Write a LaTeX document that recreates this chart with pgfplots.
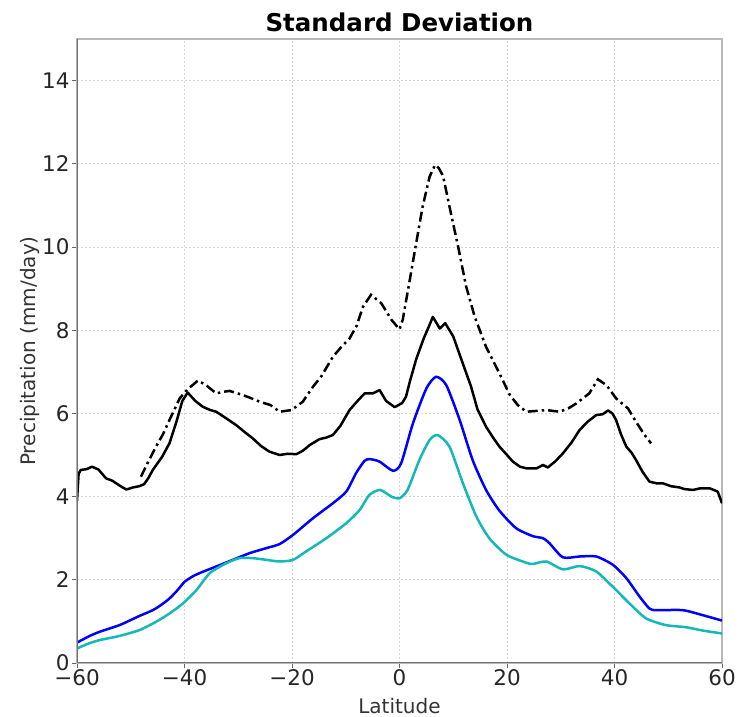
\documentclass[border=0pt]{standalone}
\usepackage{fontspec}
\setmainfont{DejaVu Sans}
\usepackage{pgfplots}
\pgfplotsset{compat=1.18}
\definecolor{mplblue}{rgb}{0,0,1}
\definecolor{mplcyan}{rgb}{0.08,0.72,0.72}
\begin{document}
\begin{tikzpicture}[x=1pt,y=1pt]
\useasboundingbox (-77,-54) rectangle (663,663);
\begin{axis}[
  at={(0,0)}, anchor=south west,
  width=645pt, height=624pt, scale only axis,
  xmin=-60, xmax=60, ymin=0, ymax=15,
  xtick={-60,-40,-20,0,20,40,60},
  xticklabels={−60,−40,−20,0,20,40,60},
  ytick={0,2,4,6,8,10,12,14},
  yticklabels={0,2,4,6,8,10,12,14},
  tick label style={font=\fontsize{21.5}{25}\selectfont, text=black!85},
  xticklabel style={yshift=2pt},
  yticklabel style={xshift=1pt},
  tick align=outside, tickpos=left,
  major tick length=5pt,
  every tick/.style={black!60, line width=0.8pt},
  axis line style={black!28, line width=1.2pt},
  grid=major,
  major grid style={black!16, dash pattern=on 2pt off 2pt, line width=0.6pt},
  xlabel={Latitude},
  ylabel={Precipitation (mm/day)},
  every axis x label/.style={at={(axis description cs:0.5,0)}, anchor=center, yshift=-43pt, font=\fontsize{20}{24}\selectfont, text=black!80},
  every axis y label/.style={at={(axis description cs:0,0.5)}, xshift=-47pt, rotate=90, anchor=center, font=\fontsize{20}{24}\selectfont, text=black!80},
  title={\textbf{Standard Deviation}},
  every axis title/.style={at={(axis description cs:0.5,1)}, anchor=base, yshift=7pt, font=\fontsize{24.5}{28}\selectfont},
  clip=true,
]
% solid black
\addplot[black, line width=2.5pt, line join=round] coordinates {
(-60,3.9)(-59.7,4.55)(-59.3,4.64)(-58.2,4.66)(-57.2,4.72)(-56,4.65)(-54.6,4.44)(-53.4,4.38)(-52.5,4.3)(-51.5,4.22)(-50.8,4.17)(-49.6,4.22)(-48.4,4.25)(-47.5,4.3)(-46.7,4.45)(-45.9,4.64)(-44.2,4.95)(-42.8,5.28)(-41.5,5.8)(-40.4,6.3)(-39.4,6.5)(-38,6.3)(-36.6,6.16)(-35.2,6.08)(-34.1,6.04)(-32,5.86)(-30.4,5.72)(-28.8,5.55)(-27.3,5.40)(-25.8,5.22)(-24.2,5.08)(-22.3,5.0)(-20.8,5.03)(-19.2,5.02)(-18,5.1)(-16.7,5.24)(-14.9,5.38)(-13.6,5.42)(-12.4,5.48)(-11,5.7)(-9.3,6.08)(-7.8,6.3)(-6.5,6.48)(-5,6.48)(-3.7,6.56)(-2.5,6.3)(-0.9,6.15)(0.5,6.25)(1.2,6.40)(2,6.8)(3.1,7.3)(4.5,7.8)(5.5,8.1)(6.2,8.32)(7.5,8.04)(8.5,8.17)(10,7.85)(11.5,7.3)(13.3,6.65)(14.5,6.1)(16.1,5.68)(17.4,5.42)(18.6,5.2)(20,5.0)(21.1,4.84)(22.4,4.72)(23.6,4.68)(25.5,4.68)(26.7,4.76)(27.6,4.70)(29,4.85)(30.4,5.04)(32,5.3)(33.5,5.6)(35,5.8)(36.6,5.96)(37.8,5.98)(38.8,6.07)(39.6,6.0)(40.3,5.84)(41.2,5.5)(42.2,5.2)(43.2,5.05)(44.0,4.88)(45.2,4.6)(46.5,4.36)(47.8,4.32)(49.0,4.32)(50.5,4.25)(52.1,4.22)(53,4.18)(54.6,4.16)(56,4.2)(57.7,4.2)(59.2,4.12)(60,3.84)
};
% dash-dot black
\addplot[black, line width=2.5pt, dash pattern=on 10pt off 4pt on 2.5pt off 4pt] coordinates {
(-48.1,4.48)(-46.7,4.85)(-45.3,5.2)(-44,5.5)(-42.8,5.84)(-40.9,6.36)(-39.4,6.58)(-37.5,6.79)(-36.0,6.68)(-34.1,6.48)(-32.8,6.52)(-31.6,6.54)(-29.1,6.44)(-27.5,6.36)(-26.0,6.28)(-24,6.2)(-22.3,6.04)(-20.1,6.08)(-18.0,6.28)(-16.1,6.64)(-14.5,6.9)(-12.4,7.36)(-10.8,7.6)(-9.3,7.80)(-8,8.1)(-6.8,8.56)(-5.3,8.85)(-3.4,8.65)(-1.5,8.25)(0,8.02)(0.6,8.25)(1.9,9.2)(3.1,10.09)(4.3,10.97)(5.6,11.69)(6.6,11.97)(7.3,11.9)(8.1,11.71)(9.3,10.97)(10.9,10.01)(12.4,9.05)(14.0,8.32)(16.1,7.6)(18.6,6.96)(20.5,6.45)(22,6.2)(23.6,6.04)(25.5,6.06)(27.3,6.08)(29.8,6.04)(31.4,6.12)(32.9,6.24)(35.3,6.48)(36.9,6.82)(38.5,6.68)(40.3,6.36)(42.5,6.12)(44.0,5.80)(45.6,5.48)(46.8,5.28)
};
% blue
\addplot[mplblue, line width=2.5pt, smooth, tension=0.4] coordinates {
(-60,0.49)(-57.8,0.64)(-55.8,0.75)(-52.1,0.91)(-48.4,1.13)(-45.9,1.27)(-44.3,1.4)(-42.8,1.55)(-41.3,1.75)(-40,1.95)(-38.5,2.08)(-37.2,2.16)(-34.1,2.32)(-31.0,2.48)(-27.9,2.64)(-24.8,2.76)(-22.3,2.86)(-19.8,3.08)(-16.1,3.48)(-12.4,3.84)(-9.9,4.12)(-8.1,4.56)(-6.5,4.86)(-5.5,4.9)(-3.7,4.84)(-1.2,4.62)(0.3,4.80)(2.5,5.76)(5.0,6.60)(6.8,6.88)(8.7,6.68)(11.2,5.84)(13.6,4.88)(16.1,4.16)(18.6,3.66)(21.7,3.24)(24.8,3.05)(26.7,3.0)(27.9,2.88)(30.4,2.54)(33.5,2.56)(36.6,2.56)(39.7,2.36)(42.2,2.04)(44.7,1.59)(46.5,1.31)(47.8,1.27)(52.7,1.27)(56.4,1.15)(60,1.02)
};
% cyan
\addplot[mplcyan, line width=2.5pt, smooth, tension=0.4] coordinates {
(-60,0.35)(-57.8,0.47)(-55.8,0.55)(-52.1,0.65)(-48.4,0.79)(-45.3,0.99)(-42.8,1.19)(-40.3,1.43)(-37.8,1.75)(-35.3,2.16)(-32.2,2.40)(-29.8,2.52)(-27.3,2.52)(-24.8,2.48)(-22.3,2.44)(-19.8,2.48)(-17.4,2.68)(-13.6,3.0)(-9.9,3.36)(-7.4,3.68)(-5.6,4.04)(-3.6,4.16)(-1.5,4.0)(0,3.96)(1.5,4.16)(3.7,4.88)(5.6,5.36)(7.1,5.48)(9.3,5.2)(11.8,4.32)(14.3,3.52)(16.7,3.0)(19.9,2.6)(23.6,2.41)(24.8,2.38)(27.3,2.44)(30.4,2.25)(33.5,2.33)(36.6,2.20)(39.7,1.83)(42.8,1.43)(45.9,1.07)(49.6,0.91)(53.3,0.86)(56.4,0.78)(60,0.71)
};
\draw[black!55, line width=1.2pt] (rel axis cs:0,1) -- (rel axis cs:0,0) -- (rel axis cs:1,0);
\end{axis}
\end{tikzpicture}
\end{document}
